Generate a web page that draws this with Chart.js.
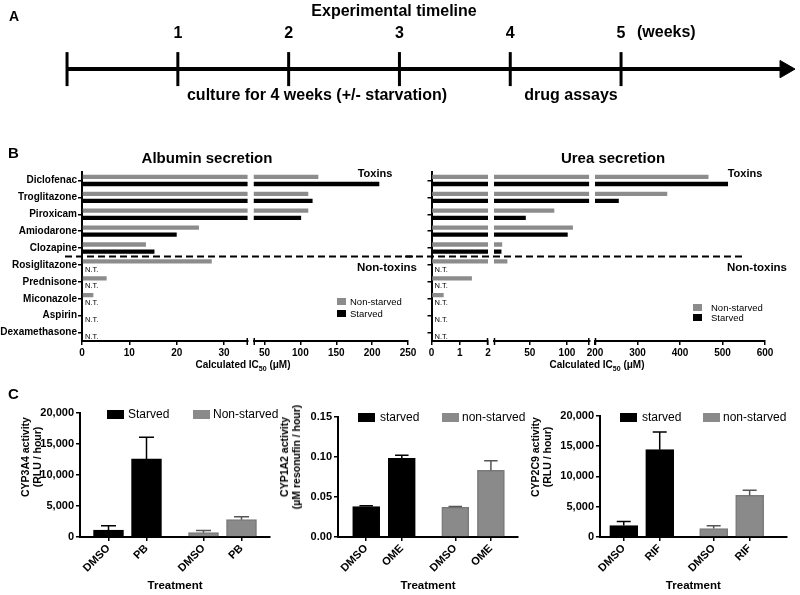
<!DOCTYPE html>
<html>
<head>
<meta charset="utf-8">
<script src="https://cdn.jsdelivr.net/npm/chart.js@4.4.1/dist/chart.umd.min.js"></script>
<style>
html,body{margin:0;padding:0;background:#fff}
body{position:relative;width:800px;height:595px;overflow:hidden;font-family:"Liberation Sans",Arial,Helvetica,sans-serif;color:#000}
canvas{position:absolute;display:block}
.t{position:absolute;white-space:nowrap;line-height:1;transform:translateY(-50%)}
.c{transform:translate(-50%,-50%)}
.b{font-weight:bold}
.sw{position:absolute}
.yt{position:absolute;white-space:nowrap;text-align:center;font-weight:bold;font-size:10.5px;line-height:12px;transform:translate(-50%,-50%) rotate(-90deg)}
sub{font-size:70%;vertical-align:-3px;line-height:0}
</style>
</head>
<body>
<canvas id="cA" width="800" height="100" style="left:0;top:0"></canvas>
<canvas id="cAlb" width="420" height="230" style="left:0;top:150px"></canvas>
<canvas id="cUrea" width="400" height="230" style="left:400px;top:150px"></canvas>
<canvas id="c3A4" width="280" height="200" style="left:0;top:395px"></canvas>
<canvas id="c1A2" width="262" height="200" style="left:268px;top:395px"></canvas>
<canvas id="c2C9" width="272" height="200" style="left:528px;top:395px"></canvas>

<!-- Panel A texts -->
<div class="t b" style="left:9px;top:16px;font-size:14px">A</div>
<div class="t c b" style="left:394px;top:11px;font-size:16px">Experimental timeline</div>
<div class="t b" style="left:637px;top:32px;font-size:16px">(weeks)</div>
<div class="t c b" style="left:317px;top:95px;font-size:16px">culture for 4 weeks (+/- starvation)</div>
<div class="t c b" style="left:571px;top:95px;font-size:16px">drug assays</div>

<!-- Panel B texts -->
<div class="t b" style="left:8px;top:152px;font-size:15px">B</div>
<div class="t c b" style="left:207px;top:157px;font-size:15px">Albumin secretion</div>
<div class="t c b" style="left:613px;top:157px;font-size:15px">Urea secretion</div>
<div class="t c b" style="left:375px;top:173px;font-size:11px">Toxins</div>
<div class="t c b" style="left:745px;top:173px;font-size:11px">Toxins</div>
<div class="t c b" style="left:387px;top:268px;font-size:11.5px">Non-toxins</div>
<div class="t c b" style="left:757px;top:268px;font-size:11.5px">Non-toxins</div>
<div class="sw" style="left:337px;top:298px;width:9px;height:7px;background:#8c8c8c"></div>
<div class="t" style="left:350px;top:302px;font-size:9.5px">Non-starved</div>
<div class="sw" style="left:337px;top:310px;width:9px;height:7px;background:#000"></div>
<div class="t" style="left:350px;top:314px;font-size:9.5px">Starved</div>
<div class="sw" style="left:693px;top:304px;width:9px;height:7px;background:#8c8c8c"></div>
<div class="t" style="left:711px;top:308px;font-size:9.5px">Non-starved</div>
<div class="sw" style="left:693px;top:314px;width:9px;height:7px;background:#000"></div>
<div class="t" style="left:711px;top:318px;font-size:9.5px">Starved</div>
<div class="t c b" style="left:243px;top:365px;font-size:10px">Calculated IC<sub>50</sub> (μM)</div>
<div class="t c b" style="left:597px;top:365px;font-size:10px">Calculated IC<sub>50</sub> (μM)</div>

<!-- Panel C texts -->
<div class="t b" style="left:8px;top:393px;font-size:15px">C</div>
<div class="sw" style="left:107px;top:410px;width:17px;height:9px;background:#000"></div>
<div class="t" style="left:128px;top:414px;font-size:12px">Starved</div>
<div class="sw" style="left:193px;top:410px;width:17px;height:9px;background:#8a8a8a"></div>
<div class="t" style="left:213px;top:414px;font-size:12px">Non-starved</div>
<div class="sw" style="left:358px;top:413px;width:17px;height:9px;background:#000"></div>
<div class="t" style="left:380px;top:417px;font-size:12px">starved</div>
<div class="sw" style="left:442px;top:413px;width:17px;height:9px;background:#8a8a8a"></div>
<div class="t" style="left:462px;top:417px;font-size:12px">non-starved</div>
<div class="sw" style="left:620px;top:413px;width:17px;height:9px;background:#000"></div>
<div class="t" style="left:642px;top:417px;font-size:12px">starved</div>
<div class="sw" style="left:703px;top:413px;width:17px;height:9px;background:#8a8a8a"></div>
<div class="t" style="left:723px;top:417px;font-size:12px">non-starved</div>
<div class="yt" style="left:31px;top:457px">CYP3A4 activity<br>(RLU / hour)</div>
<div class="yt" style="left:290px;top:457px">CYP1A2 activity<br>(µM resonufin / hour)</div>
<div class="yt" style="left:541px;top:457px">CYP2C9 activity<br>(RLU / hour)</div>

<script>
// ---------------- DATA ----------------
// Panel A: timeline
const weeks = [0, 1, 2, 3, 4, 5];
const weekLabels = ['', '1', '2', '3', '4', '5'];

// Panel B: calculated IC50 (µM); null = N.T.
const drugs = ['Diclofenac', 'Troglitazone', 'Piroxicam', 'Amiodarone', 'Clozapine',
               'Rosiglitazone', 'Prednisone', 'Miconazole', 'Aspirin', 'Dexamethasone'];
const toxinCount = 5;
const albuminNonStarved = [125, 111, 111, 24.7, 13.5, 27.4, 5.2, 2.4, null, null];
const albuminStarved    = [210, 117, 101, 20.0, 15.3, null, null, null, null, null];
const ureaNonStarved    = [467, 370, 83, 108, 13, 20, 1.43, 0.43, null, null];
const ureaStarved       = [513, 256, 44.7, 101, 12, null, null, null, null, null];
const albuminTicks = [[0, 10, 20, 30], [50, 100, 150, 200, 250]];
const ureaTicks    = [[0, 1, 2], [50, 100], [200, 300, 400, 500, 600]];

// Panel C: CYP activities (mean, SD)
const cyp3a4Labels = ['DMSO', 'PB', 'DMSO', 'PB'];
const cyp3a4Starved = [1100, 12600];
const cyp3a4StarvedErr = [700, 3500];
const cyp3a4NonStarved = [700, 2800];
const cyp3a4NonStarvedErr = [350, 450];

const cyp1a2Labels = ['DMSO', 'OME', 'DMSO', 'OME'];
const cyp1a2Starved = [0.038, 0.098];
const cyp1a2StarvedErr = [0.001, 0.004];
const cyp1a2NonStarved = [0.037, 0.083];
const cyp1a2NonStarvedErr = [0.001, 0.012];

const cyp2c9Labels = ['DMSO', 'RIF', 'DMSO', 'RIF'];
const cyp2c9Starved = [1900, 14400];
const cyp2c9StarvedErr = [650, 2900];
const cyp2c9NonStarved = [1400, 6850];
const cyp2c9NonStarvedErr = [450, 850];

// ---------------- STYLE / LAYOUT ----------------
const FONT = '"Liberation Sans", Arial, Helvetica, sans-serif';
const GREY_B = '#8c8c8c';
const GREY_C = '#8a8a8a';
Chart.defaults.font.family = FONT;
Chart.defaults.color = '#000';
Chart.defaults.animation = false;
Chart.defaults.plugins.legend.display = false;
Chart.defaults.plugins.tooltip.enabled = false;

// ---------------- PANEL A ----------------
const ARROW_AT = 6.48;
new Chart(document.getElementById('cA'), {
  type: 'scatter',
  data: { datasets: [
    { data: [{x: weeks[0], y: 0}, {x: ARROW_AT, y: 0}], showLine: true, borderColor: '#000', borderWidth: 4, pointRadius: 0 },
    { data: weeks.map(w => ({x: w, y: 0})), pointStyle: 'line', pointRadius: 17, pointRotation: 90,
      pointBorderColor: '#000', pointBorderWidth: 3 },
    { data: [{x: ARROW_AT, y: 0}], pointStyle: 'triangle', pointRadius: 10, pointRotation: 90,
      pointBackgroundColor: '#000', pointBorderColor: '#000', pointBorderWidth: 1 }
  ]},
  options: {
    responsive: false, devicePixelRatio: 1, clip: false,
    layout: { autoPadding: false, padding: { top: 21, bottom: 8, left: 0, right: 0 } },
    scales: {
      x: { type: 'linear', position: 'top', min: -0.605, max: 6.615, bounds: 'data',
           afterBuildTicks: s => { s.ticks = weeks.map(v => ({value: v})); },
           grid: { display: false, drawTicks: false }, border: { display: false },
           ticks: { callback: (v, i) => weekLabels[i], font: { size: 16, weight: 'bold' }, padding: 3,
                    maxRotation: 0, autoSkip: false } },
      y: { display: false, min: -1, max: 1 }
    }
  }
});

// ---------------- PANEL B ----------------
const bExtras = {
  id: 'bExtras',
  afterDraw(chart, args, o) {
    const ctx = chart.ctx, ys = chart.scales.y, ca = chart.chartArea;
    ctx.save();
    const yd = (ys.getPixelForValue(o.split - 1) + ys.getPixelForValue(o.split)) / 2;
    ctx.strokeStyle = '#000'; ctx.lineWidth = 2; ctx.setLineDash([7, 4]);
    ctx.beginPath(); ctx.moveTo(o.dashFrom, yd); ctx.lineTo(o.dashTo, yd); ctx.stroke();
    ctx.setLineDash([]);
    ctx.lineWidth = 1.5;
    const segs = o.segIds.map(id => chart.scales[id]);
    segs.forEach((s, i) => {
      const y0 = ca.bottom;
      if (i > 0) { ctx.beginPath(); ctx.moveTo(s.left + 0.5, y0 - 3); ctx.lineTo(s.left + 0.5, y0 + 4); ctx.stroke(); }
      if (i < segs.length - 1) { ctx.beginPath(); ctx.moveTo(s.right - 0.5, y0 - 3); ctx.lineTo(s.right - 0.5, y0 + 4); ctx.stroke(); }
    });
    ctx.font = '7.5px ' + FONT; ctx.fillStyle = '#000'; ctx.textBaseline = 'middle'; ctx.textAlign = 'left';
    o.starved.forEach((v, i) => { if (v == null) ctx.fillText('N.T.', ca.left + 3, ys.getPixelForValue(i) + 4.5); });
    ctx.restore();
  }
};

function makeBroken(id, cfg) {
  const scales = {};
  const datasets = [];
  const segIds = [];
  cfg.segs.forEach((sg, i) => {
    const key = 'x' + i;
    if (sg.gap) {
      scales[key] = { type: 'linear', position: 'bottom', stack: 'xs', stackWeight: sg.gap, min: 0, max: 1,
        grid: { display: false, drawTicks: false }, border: { display: false }, ticks: { display: false },
        afterFit: s => { s.height = 24; } };
      return;
    }
    segIds.push(key);
    scales[key] = { type: 'linear', position: 'bottom', stack: 'xs', stackWeight: sg.w, min: sg.min, max: sg.max,
      bounds: 'data', stacked: false,
      afterBuildTicks: s => { s.ticks = sg.ticks.map(v => ({value: v})); },
      grid: { display: true, drawOnChartArea: false, drawTicks: true, tickLength: 4, color: '#000', lineWidth: 1.5 },
      border: { display: true, color: '#000', width: 2 },
      ticks: { font: { size: 10, weight: 'bold' }, color: '#000', padding: 2, maxRotation: 0, autoSkip: false },
      afterFit: s => { s.height = 24; } };
    [[cfg.ns, 'ns', GREY_B], [cfg.st, 'st', '#000']].forEach(([vals, stack, col]) => {
      datasets.push({
        data: vals.map(v => (v == null || v <= sg.min) ? null : Math.min(v, sg.max)),
        xAxisID: key, yAxisID: 'y', stack: stack, backgroundColor: col, borderWidth: 0,
        categoryPercentage: 0.84, barPercentage: 0.6
      });
    });
  });
  scales.y = { type: 'category', position: 'left', offset: true,
    grid: { display: true, offset: false, drawOnChartArea: false, drawTicks: true, tickLength: 4, color: '#000', lineWidth: 1.5 },
    border: { display: true, color: '#000', width: 2 },
    ticks: { display: cfg.showLabels, font: { size: 10, weight: 'bold' }, color: '#000', padding: 1, autoSkip: false },
    afterFit: s => { s.width = cfg.yW; } };
  new Chart(document.getElementById(id), {
    type: 'bar',
    data: { labels: drugs, datasets },
    options: {
      responsive: false, devicePixelRatio: 1, indexAxis: 'y',
      layout: { padding: { top: 22, bottom: 15, left: 0, right: cfg.padR } },
      scales,
      plugins: { bExtras: { split: toxinCount, dashFrom: cfg.dashFrom, dashTo: cfg.dashTo, segIds, starved: cfg.st } }
    },
    plugins: [bExtras]
  });
}

makeBroken('cAlb', {
  ns: albuminNonStarved, st: albuminStarved, showLabels: true, yW: 82, padR: 12,
  dashFrom: 65, dashTo: 415,
  segs: [ { min: 0, max: 35, w: 165.5, ticks: albuminTicks[0] },
          { gap: 6 },
          { min: 35, max: 250, w: 154, ticks: albuminTicks[1] } ]
});
makeBroken('cUrea', {
  ns: ureaNonStarved, st: ureaStarved, showLabels: false, yW: 31.5, padR: 35,
  dashFrom: 5, dashTo: 343,
  segs: [ { min: 0, max: 2, w: 56.5, ticks: ureaTicks[0] },
          { gap: 6 },
          { min: 2, max: 130, w: 95.3, ticks: ureaTicks[1] },
          { gap: 5.7 },
          { min: 200, max: 600, w: 170, ticks: ureaTicks[2] } ]
});

// ---------------- PANEL C ----------------
const SLOTS = [1, 2, 3.5, 4.5];
const errorBars = {
  id: 'errorBars',
  afterDatasetsDraw(chart) {
    const ctx = chart.ctx, ys = chart.scales.y;
    chart.data.datasets.forEach((ds, di) => {
      const meta = chart.getDatasetMeta(di);
      meta.data.forEach((bar, i) => {
        const v = ds.data[i].y, e = ds.errors[i];
        const yb = ys.getPixelForValue(v), yt = ys.getPixelForValue(v + e);
        const half = bar.width * 0.25;
        ctx.save();
        ctx.strokeStyle = ds.errColor; ctx.lineWidth = 1.5;
        ctx.beginPath();
        ctx.moveTo(bar.x, yb); ctx.lineTo(bar.x, yt);
        ctx.moveTo(bar.x - half, yt); ctx.lineTo(bar.x + half, yt);
        ctx.stroke();
        ctx.restore();
      });
    });
  }
};

function makeCyp(id, cfg) {
  new Chart(document.getElementById(id), {
    type: 'bar',
    data: { datasets: [
      { data: cfg.st.map((v, i) => ({x: SLOTS[i], y: v})), errors: cfg.stErr, errColor: '#000',
        backgroundColor: '#000', borderColor: '#000', borderWidth: 1.5, barThickness: cfg.bw, grouped: false },
      { data: cfg.ns.map((v, i) => ({x: SLOTS[i + 2], y: v})), errors: cfg.nsErr, errColor: '#555',
        backgroundColor: GREY_C, borderColor: '#7a7a7a', borderWidth: 1.5, barThickness: cfg.bw, grouped: false }
    ]},
    options: {
      responsive: false, devicePixelRatio: 1,
      layout: { padding: { top: cfg.padT, bottom: 0, left: 0, right: cfg.padR } },
      scales: {
        x: { type: 'linear', min: cfg.xmin, max: cfg.xmax, bounds: 'data', offset: false,
             afterBuildTicks: s => { s.ticks = SLOTS.map(v => ({value: v})); },
             ticks: { callback: (v, i) => cfg.labels[i], autoSkip: false, maxRotation: 45, minRotation: 45,
                      font: { size: 11, weight: 'bold' }, padding: 1 },
             grid: { display: true, offset: false, drawOnChartArea: false, tickLength: 4, color: '#000', lineWidth: 1.5 },
             border: { display: true, color: '#000', width: 2 },
             title: { display: true, text: 'Treatment', font: { size: 11.5, weight: 'bold' }, padding: { top: 0, bottom: 2 } },
             afterFit: s => { s.height = 58; } },
        y: { min: 0, max: cfg.ymax, beginAtZero: true,
             ticks: { stepSize: cfg.step, callback: cfg.fmt, font: { size: 11, weight: 'bold' }, padding: 2 },
             grid: { display: true, drawOnChartArea: false, tickLength: 4, color: '#000', lineWidth: 1.5 },
             border: { display: true, color: '#000', width: 2 },
             afterFit: s => { s.width = cfg.yW; } }
      }
    },
    plugins: [errorBars]
  });
}

const fmtInt = v => Number(v).toLocaleString('en-US');
const fmt2 = v => Number(v).toFixed(2);

makeCyp('c3A4', { labels: cyp3a4Labels, st: cyp3a4Starved, stErr: cyp3a4StarvedErr, ns: cyp3a4NonStarved, nsErr: cyp3a4NonStarvedErr,
  ymax: 20000, step: 5000, fmt: fmtInt, yW: 80, padT: 18, padR: 10, xmin: 0.25, xmax: 5.25, bw: 30 });
makeCyp('c1A2', { labels: cyp1a2Labels, st: cyp1a2Starved, stErr: cyp1a2StarvedErr, ns: cyp1a2NonStarved, nsErr: cyp1a2NonStarvedErr,
  ymax: 0.15, step: 0.05, fmt: fmt2, yW: 70, padT: 21.7, padR: 12, xmin: 0.21, xmax: 5.26, bw: 27 });
makeCyp('c2C9', { labels: cyp2c9Labels, st: cyp2c9Starved, stErr: cyp2c9StarvedErr, ns: cyp2c9NonStarved, nsErr: cyp2c9NonStarvedErr,
  ymax: 20000, step: 5000, fmt: fmtInt, yW: 72, padT: 20.7, padR: 13.3, xmin: 0.34, xmax: 5.53, bw: 28 });
</script>
</body>
</html>
